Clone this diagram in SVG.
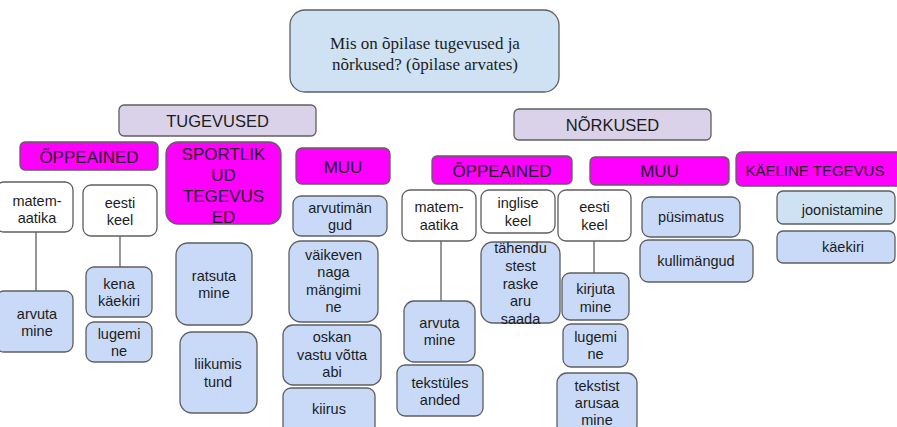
<svg xmlns="http://www.w3.org/2000/svg" width="897" height="427" viewBox="0 0 897 427">
  <style>
    rect { stroke: #5f5f5f; stroke-width: 1.3; }
    .q { fill: #cfe2f3; }
    .grp { fill: #d9d2e9; }
    .cat { fill: #ff00ff; }
    .sub { fill: #ffffff; }
    .item { fill: #c9daf8; }
    .item2 { fill: #cfe2f3; }
    text { font-family: "Liberation Sans", Arial, sans-serif; fill: #1c1c1c; text-anchor: middle; }
    .serif { font-family: "Liberation Serif", "Times New Roman", serif; font-size: 17px; }
    .h { font-size: 16.5px; }
    .c { font-size: 17px; }
    .s { font-size: 14.5px; }
    .links line { stroke: #5f5f5f; stroke-width: 1.3; }
  </style>

  <!-- connectors -->
  <g class="links">
    <line x1="36" y1="232" x2="36" y2="291"/>
    <line x1="120" y1="236" x2="120" y2="267"/>
    <line x1="441" y1="241" x2="441" y2="301"/>
    <line x1="594" y1="241" x2="594" y2="273"/>
  </g>

  <!-- question -->
  <g id="question">
    <rect class="q" x="290" y="10" width="269" height="82" rx="15"/>
    <text class="serif" x="425" y="49">Mis on õpilase tugevused ja</text>
    <text class="serif" x="425" y="70">nõrkused? (õpilase arvates)</text>
  </g>

  <!-- main groups -->
  <g id="tugevused">
    <rect class="grp" x="119" y="105" width="197" height="31" rx="5"/>
    <text class="h" x="217.5" y="127">TUGEVUSED</text>
  </g>
  <g id="norkused">
    <rect class="grp" x="514" y="109" width="197" height="31" rx="5"/>
    <text class="h" x="612.5" y="131">NÕRKUSED</text>
  </g>

  <!-- categories: strengths -->
  <g id="t-oppeained">
    <rect class="cat" x="20" y="142" width="138" height="28" rx="5"/>
    <text class="c" x="89" y="163">ÕPPEAINED</text>
  </g>
  <g id="t-sport">
    <rect class="cat" x="166" y="142" width="115" height="82" rx="12"/>
    <text class="c" x="223.5" y="160">SPORTLIK</text>
    <text class="c" x="223.5" y="181">UD</text>
    <text class="c" x="223.5" y="201.5">TEGEVUS</text>
    <text class="c" x="223.5" y="222.5">ED</text>
  </g>
  <g id="t-muu">
    <rect class="cat" x="296" y="148" width="94" height="36" rx="6"/>
    <text class="c" x="343" y="172.5">MUU</text>
  </g>

  <!-- categories: weaknesses -->
  <g id="n-oppeained">
    <rect class="cat" x="432" y="156" width="140" height="28" rx="5"/>
    <text class="c" x="502" y="176.5">ÕPPEAINED</text>
  </g>
  <g id="n-muu">
    <rect class="cat" x="590" y="157" width="139" height="28" rx="5"/>
    <text class="c" x="659.5" y="177">MUU</text>
  </g>
  <g id="n-kaeline">
    <rect class="cat" x="736" y="152" width="175" height="34" rx="6"/>
    <text class="c" x="815" y="175.5" style="font-size:15px">KÄELINE TEGEVUS</text>
  </g>

  <!-- strengths: subjects -->
  <g id="t-matem">
    <rect class="sub" x="-4" y="182" width="77" height="50" rx="8"/>
    <text class="s" x="37" y="205.5">matem-</text>
    <text class="s" x="37" y="222.5">aatika</text>
  </g>
  <g id="t-eesti">
    <rect class="sub" x="83" y="185" width="74" height="51" rx="8"/>
    <text class="s" x="120" y="208">eesti</text>
    <text class="s" x="120" y="225">keel</text>
  </g>
  <g id="t-arvutama">
    <rect class="item" x="-4" y="291" width="77" height="61" rx="8"/>
    <text class="s" x="37" y="318.5">arvuta</text>
    <text class="s" x="37" y="336">mine</text>
  </g>
  <g id="t-kakiri">
    <rect class="item" x="86" y="267" width="66" height="50" rx="8"/>
    <text class="s" x="119" y="288.5">kena</text>
    <text class="s" x="119" y="305.5">käekiri</text>
  </g>
  <g id="t-lugemine">
    <rect class="item" x="86" y="322" width="66" height="40" rx="8"/>
    <text class="s" x="119" y="338.5">lugemi</text>
    <text class="s" x="119" y="355.5">ne</text>
  </g>

  <!-- strengths: sports -->
  <g id="t-ratsutamine">
    <rect class="item" x="176" y="243" width="76" height="82" rx="12"/>
    <text class="s" x="214" y="281">ratsuta</text>
    <text class="s" x="214" y="298">mine</text>
  </g>
  <g id="t-liikumis">
    <rect class="item" x="180" y="332" width="77" height="81" rx="12"/>
    <text class="s" x="218" y="369">liikumis</text>
    <text class="s" x="218" y="386.5">tund</text>
  </g>

  <!-- strengths: other -->
  <g id="t-arvutimangud">
    <rect class="item" x="293" y="196" width="94" height="40" rx="8"/>
    <text class="s" x="340" y="213">arvutimän</text>
    <text class="s" x="340" y="230">gud</text>
  </g>
  <g id="t-vaikevend">
    <rect class="item" x="289" y="241" width="89" height="81" rx="12"/>
    <text class="s" x="333.5" y="259.5">väikeven</text>
    <text class="s" x="333.5" y="277">naga</text>
    <text class="s" x="333.5" y="294.5">mängimi</text>
    <text class="s" x="333.5" y="311.5">ne</text>
  </g>
  <g id="t-abi">
    <rect class="item" x="283" y="325" width="98" height="60" rx="10"/>
    <text class="s" x="332" y="342">oskan</text>
    <text class="s" x="332" y="359.5">vastu võtta</text>
    <text class="s" x="332" y="377">abi</text>
  </g>
  <g id="t-kiirus">
    <rect class="item" x="283" y="388" width="92" height="50" rx="8"/>
    <text class="s" x="329" y="413.5">kiirus</text>
  </g>

  <!-- weaknesses: subjects -->
  <g id="n-matem">
    <rect class="sub" x="402" y="190" width="74" height="51" rx="8"/>
    <text class="s" x="439" y="212">matem-</text>
    <text class="s" x="439" y="229.5">aatika</text>
  </g>
  <g id="n-inglise">
    <rect class="sub" x="481" y="190" width="74" height="43" rx="8"/>
    <text class="s" x="518" y="208">inglise</text>
    <text class="s" x="518" y="226">keel</text>
  </g>
  <g id="n-eesti">
    <rect class="sub" x="558" y="190" width="73" height="51" rx="8"/>
    <text class="s" x="594.5" y="212">eesti</text>
    <text class="s" x="594.5" y="229.5">keel</text>
  </g>
  <g id="n-tahendus">
    <rect class="item" x="481" y="242" width="79" height="81" rx="12"/>
    <text class="s" x="520.5" y="253">tähendu</text>
    <text class="s" x="520.5" y="271">stest</text>
    <text class="s" x="520.5" y="288.5">raske</text>
    <text class="s" x="520.5" y="306">aru</text>
    <text class="s" x="520.5" y="323.5">saada</text>
  </g>
  <g id="n-arvutamine">
    <rect class="item" x="404" y="301" width="71" height="61" rx="10"/>
    <text class="s" x="439.5" y="327.5">arvuta</text>
    <text class="s" x="439.5" y="345">mine</text>
  </g>
  <g id="n-tekstulesanded">
    <rect class="item" x="397" y="365" width="86" height="51" rx="8"/>
    <text class="s" x="440" y="388">tekstüles</text>
    <text class="s" x="440" y="405">anded</text>
  </g>
  <g id="n-kirjutamine">
    <rect class="item" x="562" y="273" width="67" height="47" rx="8"/>
    <text class="s" x="595.5" y="294">kirjuta</text>
    <text class="s" x="595.5" y="311.5">mine</text>
  </g>
  <g id="n-lugemine">
    <rect class="item" x="563" y="324" width="65" height="43" rx="8"/>
    <text class="s" x="595.5" y="341.5">lugemi</text>
    <text class="s" x="595.5" y="359">ne</text>
  </g>
  <g id="n-tekstist">
    <rect class="item" x="557" y="373" width="80" height="62" rx="10"/>
    <text class="s" x="597" y="391">tekstist</text>
    <text class="s" x="597" y="408">arusaa</text>
    <text class="s" x="597" y="425">mine</text>
  </g>

  <!-- weaknesses: other -->
  <g id="n-pusimatus">
    <rect class="item" x="642" y="197" width="98" height="40" rx="8"/>
    <text class="s" x="691" y="221.5">püsimatus</text>
  </g>
  <g id="n-kullimangud">
    <rect class="item" x="640" y="240" width="113" height="42" rx="8"/>
    <text class="s" x="696" y="265.5">kullimängud</text>
  </g>

  <!-- weaknesses: handwork -->
  <g id="n-joonistamine">
    <rect class="item2" x="777" y="191" width="118" height="33" rx="6"/>
    <text class="s" x="842.5" y="215">joonistamine</text>
  </g>
  <g id="n-kaekiri">
    <rect class="item" x="777" y="231" width="118" height="32" rx="6"/>
    <text class="s" x="843" y="252">käekiri</text>
  </g>
</svg>
